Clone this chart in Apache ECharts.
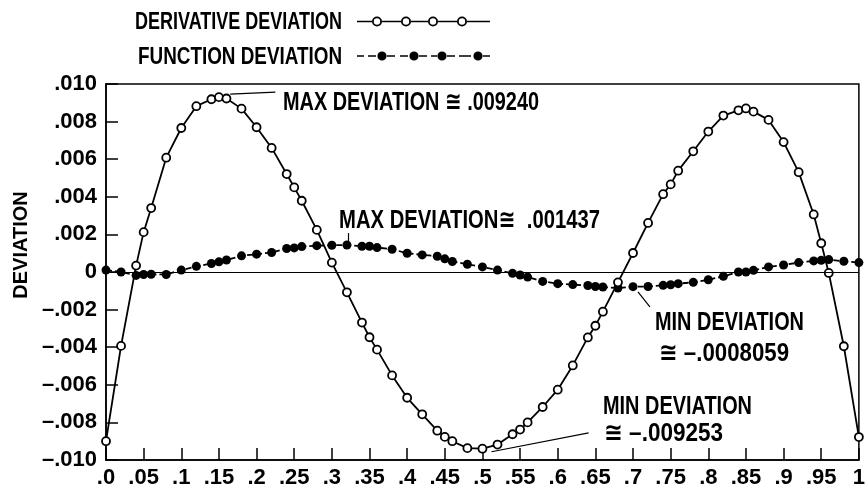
<!DOCTYPE html>
<html><head><meta charset="utf-8">
<script src="https://cdn.jsdelivr.net/npm/echarts@6/dist/echarts.min.js"></script>
<style>html,body{margin:0;padding:0;background:#fff}#c{width:868px;height:493px}</style>
</head><body><div id="c"></div>
<script>
const xValues = [0, .02, .04, .05, .06, .08, .10, .12, .14, .15, .16, .18, .20, .22, .24, .25, .26, .28, .30, .32, .34, .35, .36, .38, .40, .42, .44, .45, .46, .48, .50, .52, .54, .55, .56, .58, .60, .62, .64, .65, .66, .68, .70, .72, .74, .75, .76, .78, .80, .82, .84, .85, .86, .88, .90, .92, .94, .95, .96, .98, 1.0];
// values in units of 0.001
const derivativeDev = [-9.0, -3.93, 0.34, 2.12, 3.4, 6.08, 7.66, 8.82, 9.19, 9.3, 9.23, 8.69, 7.7, 6.6, 5.21, 4.5, 3.79, 2.24, 0.5, -1.08, -2.69, -3.47, -4.13, -5.5, -6.69, -7.57, -8.44, -8.77, -9.0, -9.37, -9.4, -9.18, -8.63, -8.38, -8.0, -7.18, -6.26, -4.97, -3.48, -2.86, -2.11, -0.55, 1.01, 2.61, 4.14, 4.66, 5.39, 6.42, 7.47, 8.32, 8.6, 8.7, 8.53, 8.09, 6.91, 5.31, 3.06, 1.53, -0.05, -3.95, -8.78];
const functionDev = [0.1, 0.0, -0.18, -0.13, -0.12, -0.13, 0.1, 0.3, 0.45, 0.54, 0.64, 0.86, 0.95, 1.04, 1.25, 1.28, 1.35, 1.40, 1.42, 1.437, 1.37, 1.37, 1.30, 1.21, 1.00, 0.91, 0.84, 0.70, 0.56, 0.41, 0.27, 0.10, -0.07, -0.16, -0.27, -0.50, -0.62, -0.67, -0.72, -0.77, -0.80, -0.85, -0.78, -0.77, -0.71, -0.68, -0.62, -0.55, -0.41, -0.23, 0.0, 0.0, 0.09, 0.27, 0.37, 0.50, 0.59, 0.62, 0.66, 0.57, 0.50];
const seriesNames = ['DERIVATIVE DEVIATION', 'FUNCTION DEVIATION'];
const annotationTexts = ['MAX DEVIATION \u2245 .009240', 'MAX DEVIATION\u2245  .001437', 'MIN DEVIATION', '\u2245 \u2013.0008059', 'MIN DEVIATION', '\u2245 \u2013.009253'];
const yTicks = {min: -0.010, max: 0.010, interval: 0.002};
const xTicks = {min: 0, max: 1, interval: 0.05};

const FONT = "'Liberation Sans','Arimo','DejaVu Sans',sans-serif";
const toPairs = arr => xValues.map((x, i) => [x, arr[i] / 1000]);

function fmtY(v) {
  if (Math.abs(v) < 1e-12) return '0';
  const s = Math.abs(v).toFixed(3).replace(/^0/, '');
  return (v < 0 ? '\u2013' : '') + s;
}
function fmtX(v) {
  if (Math.abs(v) < 1e-9) return '.0';
  if (Math.abs(v - 1) < 1e-9) return '1';
  return String(+v.toFixed(2)).replace(/^0/, '');
}

// legend icons (line with open circles / dashed line with dots)
function ring(cx, cy, r, r2) {
  return `M${cx - r} ${cy} A${r} ${r} 0 1 0 ${cx + r} ${cy} A${r} ${r} 0 1 0 ${cx - r} ${cy} Z ` +
         `M${cx - r2} ${cy} A${r2} ${r2} 0 1 1 ${cx + r2} ${cy} A${r2} ${r2} 0 1 1 ${cx - r2} ${cy} Z `;
}
function dot(cx, cy, r) {
  return `M${cx - r} ${cy} A${r} ${r} 0 1 0 ${cx + r} ${cy} A${r} ${r} 0 1 0 ${cx - r} ${cy} Z `;
}
function seg(a, b, cy, t) {
  return `M${a} ${cy - t} L${b} ${cy - t} L${b} ${cy + t} L${a} ${cy + t} Z `;
}
let p1 = '';
[[0, 15], [25, 44], [54, 71], [81, 100], [110, 133]].forEach(s => p1 += seg(s[0], s[1], 6, 0.8));
[20, 49, 76, 105].forEach(c => p1 += ring(c, 6, 5, 3.2));
let p2 = '';
[[0, 7], [11, 19], [30, 38], [43, 51], [62, 70], [74, 80], [90, 98], [102, 114], [126, 133]].forEach(s => p2 += seg(s[0], s[1], 6, 0.8));
[25, 57, 85, 121].forEach(c => p2 += dot(c, 6, 4.6));

// condensed-looking text: measure and squeeze horizontally
const mctx = document.createElement('canvas').getContext('2d');
function squeezedText(text, x, cy, targetW, size) {
  const font = 'bold ' + size + 'px ' + FONT;
  mctx.font = font;
  const w = mctx.measureText(text).width;
  return {type: 'text', x: x, y: cy, scaleX: targetW / w, scaleY: 1, z: 10,
    style: {text: text, font: font, fill: '#000', align: 'left', verticalAlign: 'middle',
            textAlign: 'left', textVerticalAlign: 'middle'}};
}

const chart = echarts.init(document.getElementById('c'));
const lead = (a, b) => [{coord: a}, {coord: b}];
const textStyleBase = {fontFamily: FONT, fontWeight: 'bold', color: '#000'};
const legendCommon = {right: 378, align: 'right', itemWidth: 133, padding: 0, formatter: () => '',
  textStyle: {fontSize: 1, padding: 0}};

chart.setOption({
  animation: false,
  backgroundColor: '#fff',
  grid: {left: 106, right: 2, top: 84, bottom: 33, show: true, borderColor: '#000', borderWidth: 1.5, backgroundColor: 'transparent'},
  legend: [
    Object.assign({data: [{name: seriesNames[0], icon: 'path://' + p1, itemStyle: {color: '#000', borderWidth: 0}}],
     top: 16, itemHeight: 11}, legendCommon),
    Object.assign({data: [{name: seriesNames[1], icon: 'path://' + p2, itemStyle: {color: '#000', borderWidth: 0}}],
     top: 51, itemHeight: 10}, legendCommon)
  ],
  xAxis: {
    type: 'value', min: xTicks.min, max: xTicks.max, interval: xTicks.interval,
    axisLine: {show: true, onZero: false, lineStyle: {color: '#000', width: 1.5}},
    axisTick: {show: true, inside: true, length: 12, lineStyle: {color: '#000', width: 1.5}},
    splitLine: {show: false},
    axisLabel: Object.assign({fontSize: 22, margin: 7, formatter: fmtX, showMinLabel: true, showMaxLabel: true}, textStyleBase)
  },
  yAxis: {
    type: 'value', min: yTicks.min, max: yTicks.max, interval: yTicks.interval,
    name: 'DEVIATION', nameLocation: 'middle', nameGap: 70,
    nameTextStyle: Object.assign({fontSize: 20, padding: [0, 0, 0, 54]}, textStyleBase),
    axisLine: {show: true, lineStyle: {color: '#000', width: 1.5}},
    axisTick: {show: true, inside: true, length: 12, lineStyle: {color: '#000', width: 1.5}},
    splitLine: {show: false},
    axisLabel: Object.assign({fontSize: 22, margin: 9, formatter: fmtY}, textStyleBase)
  },
  series: [
    {
      name: seriesNames[0], type: 'line', data: toPairs(derivativeDev),
      symbol: 'circle', symbolSize: 8, showAllSymbol: true, z: 3,
      lineStyle: {color: '#000', width: 1.8},
      itemStyle: {color: '#fff', borderColor: '#000', borderWidth: 1.8},
      markLine: {
        silent: true, symbol: 'none', label: {show: false},
        lineStyle: {color: '#000', width: 1.2, type: 'solid'},
        data: [
          lead([0.165, 0.00946], [0.225, 0.00957]),
          lead([0.512, -0.00956], [0.641, -0.00856])
        ]
      }
    },
    {
      name: seriesNames[1], type: 'line', data: toPairs(functionDev),
      symbol: 'circle', symbolSize: 9, showAllSymbol: true, z: 2,
      lineStyle: {color: '#000', width: 1.8, type: [6, 3]},
      itemStyle: {color: '#000', borderWidth: 0},
      markLine: {
        silent: true, symbol: 'none', label: {show: false},
        lineStyle: {color: '#000', width: 1.2, type: 'solid'},
        data: [
          [{xAxis: 0, yAxis: 0}, {xAxis: 1, yAxis: 0}],
          lead([0.322, 0.00207], [0.322, 0.00165]),
          lead([0.7066, -0.00106], [0.7224, -0.00186])
        ]
      }
    }
  ],
  graphic: [
    squeezedText(seriesNames[0], 135, 22, 207, 24),
    squeezedText(seriesNames[1], 138, 57, 204, 24),
    squeezedText(annotationTexts[0], 283, 103, 256, 26),
    squeezedText(annotationTexts[1], 339, 221, 261, 26),
    squeezedText(annotationTexts[2], 655, 323, 149, 26),
    squeezedText(annotationTexts[3], 659, 354, 130, 26),
    squeezedText(annotationTexts[4], 603, 407, 149, 26),
    squeezedText(annotationTexts[5], 604, 434, 119, 26)
  ]
});
</script></body></html>
